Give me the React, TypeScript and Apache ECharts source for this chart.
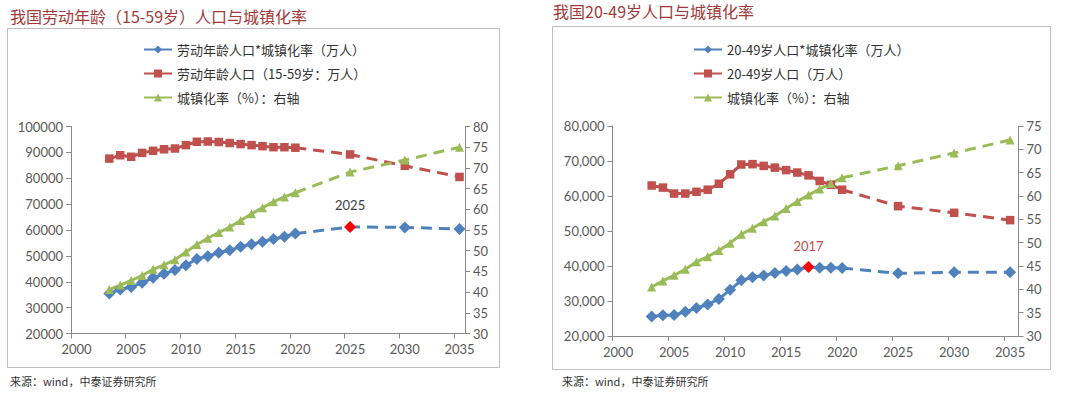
import React, { useEffect, useRef } from "react";
import * as echarts from "echarts";

// ---------- data ----------
const years = [2003, 2004, 2005, 2006, 2007, 2008, 2009, 2010, 2011, 2012, 2013, 2014, 2015, 2016, 2017, 2018, 2019, 2020, 2025, 2030, 2035];
const xLabelYears = [2000, 2005, 2010, 2015, 2020, 2025, 2030, 2035];

// left chart: 劳动年龄（15-59岁）
const leftTitle = "我国劳动年龄（15-59岁）人口与城镇化率";
const leftNames = ["劳动年龄人口*城镇化率（万人）", "劳动年龄人口（15-59岁：万人）", "城镇化率（%）：右轴"];
const laborUrbanL = [35500, 37000, 38000, 39600, 41500, 43100, 44500, 46400, 48800, 49900, 51200, 52200, 53500, 54500, 55500, 56500, 57400, 58600, 61200, 61000, 60400];
const laborPopL = [87600, 88900, 88300, 89800, 90600, 91200, 91500, 92800, 94100, 94200, 94000, 93600, 93200, 92800, 92400, 92000, 92000, 91800, 89200, 84800, 80500];
const urbanRateL = [40.6, 41.7, 42.8, 44.0, 45.5, 46.6, 47.8, 49.7, 51.5, 53.0, 54.4, 55.7, 57.3, 58.9, 60.4, 61.8, 63.0, 64.0, 69.0, 71.9, 75.0];
const leftHighlightYear = 2025;

// right chart: 20-49岁
const rightTitle = "我国20-49岁人口与城镇化率";
const rightNames = ["20-49岁人口*城镇化率（万人）", "20-49岁人口（万人）", "城镇化率（%）：右轴"];
const youngUrbanR = [25600, 25900, 26000, 26900, 28000, 29000, 30600, 33200, 35900, 36800, 37300, 38000, 38600, 39000, 39700, 39500, 39500, 39400, 37900, 38200, 38200];
const youngPopR = [63000, 62400, 60700, 60700, 61200, 61800, 63500, 66200, 69000, 69100, 68600, 68100, 67400, 66700, 65900, 64300, 63200, 61800, 57100, 55200, 53100];
const urbanRateR = [40.5, 41.8, 43.0, 44.3, 45.9, 47.0, 48.3, 49.9, 51.8, 53.1, 54.5, 55.7, 57.3, 58.8, 60.2, 61.5, 62.7, 63.9, 66.5, 69.2, 72.0];
const rightHighlightYear = 2017;

const sourceText = "来源：wind，中泰证券研究所";

// ---------- styles ----------
const BLUE = "#4f81bd";
const RED = "#c0504d";
const GREEN = "#9bbb59";
const HIGHLIGHT = "#ff0000";
const AXIS = "#898989";
const LABEL = "#595959";
const NUM_FONT = "Lato, 'Noto Sans', sans-serif";
const CJK_FONT = "'Noto Sans CJK SC', sans-serif";
const LAST_SOLID = 17; // index of 2020

function buildSeries(
  name: string,
  values: number[],
  gridIdx: number,
  yIdx: number,
  color: string,
  symbol: string,
  symbolSize: number,
  highlight?: { year: number; labelColor: string }
) {
  const mk = (i: number, first: boolean) => {
    const item: any = { value: [years[i], values[i]] };
    if (first) item.symbol = "none";
    if (highlight && years[i] === highlight.year) {
      item.itemStyle = { color: HIGHLIGHT };
      item.label = {
        show: true,
        position: "top",
        distance: 9,
        formatter: String(highlight.year),
        color: highlight.labelColor,
        fontSize: 13,
        fontFamily: NUM_FONT,
      };
    }
    return item;
  };
  const solidData = years.slice(0, LAST_SOLID + 1).map((_, i) => mk(i, false));
  const dashData = years.slice(LAST_SOLID).map((_, j) => mk(LAST_SOLID + j, j === 0));
  const common = {
    type: "line",
    name,
    xAxisIndex: gridIdx,
    yAxisIndex: yIdx,
    symbol,
    symbolSize,
    itemStyle: { color },
    color,
    showSymbol: true,
    z: 3,
  };
  return [
    { ...common, data: solidData, lineStyle: { color, width: 3 } },
    { ...common, data: dashData, lineStyle: { color, width: 3, type: [11, 7] } },
  ];
}

const tickYears = xLabelYears.map((y) => y - 0.5);

function xAxisFor(gridIndex: number, max: number) {
  return {
    type: "value",
    gridIndex,
    min: 1999.5,
    max,
    splitLine: { show: false },
    axisLine: { show: true, lineStyle: { color: AXIS, width: 1 } },
    axisTick: { show: true, length: 5, lineStyle: { color: AXIS }, customValues: tickYears },
    axisLabel: { color: LABEL, fontSize: 13, fontFamily: NUM_FONT, margin: 9, customValues: xLabelYears, formatter: (v: number) => String(v) },
  };
}

function yAxisFor(gridIndex: number, position: string, min: number, max: number, interval: number, comma: boolean) {
  return {
    type: "value",
    gridIndex,
    position,
    min,
    max,
    interval,
    splitLine: { show: false },
    axisLine: { show: true, lineStyle: { color: AXIS, width: 1 } },
    axisTick: { show: true, length: 5, lineStyle: { color: AXIS } },
    axisLabel: {
      color: LABEL,
      fontSize: 13,
      fontFamily: NUM_FONT,
      margin: 8,
      formatter: (v: number) => (comma ? v.toLocaleString("en-US") : String(v)),
    },
  };
}

const legendBase = {
  orient: "vertical",
  top: 38,
  itemWidth: 28,
  itemHeight: 10,
  itemGap: 11,
  textStyle: { fontSize: 13, fontFamily: CJK_FONT, color: "#333" },
};

export default function App() {
  const ref = useRef<HTMLDivElement>(null);
  useEffect(() => {
    if (!ref.current) return;
    const chart = echarts.init(ref.current, undefined, { renderer: "svg" });
    const option: any = {
      animation: false,
      backgroundColor: "#ffffff",
      grid: [
        { left: 71, top: 126.5, width: 394, height: 207 },
        { left: 612.5, top: 126, width: 406, height: 210 },
      ],
      xAxis: [xAxisFor(0, 2035.5), xAxisFor(1, 2035.75)],
      yAxis: [
        yAxisFor(0, "left", 20000, 100000, 10000, false),
        yAxisFor(0, "right", 30, 80, 5, false),
        yAxisFor(1, "left", 20000, 80000, 10000, true),
        yAxisFor(1, "right", 30, 75, 5, false),
      ],
      legend: [
        { ...legendBase, data: leftNames, left: 138 },
        { ...legendBase, data: rightNames, left: 688 },
      ],
      series: [
        ...buildSeries(leftNames[0], laborUrbanL, 0, 0, BLUE, "diamond", 12, { year: leftHighlightYear, labelColor: "#404040" }),
        ...buildSeries(leftNames[1], laborPopL, 0, 0, RED, "rect", 8.5),
        ...buildSeries(leftNames[2], urbanRateL, 0, 1, GREEN, "triangle", 9),
        ...buildSeries(rightNames[0], youngUrbanR, 1, 2, BLUE, "diamond", 12, { year: rightHighlightYear, labelColor: "#c0504d" }),
        ...buildSeries(rightNames[1], youngPopR, 1, 2, RED, "rect", 8.5),
        ...buildSeries(rightNames[2], urbanRateR, 1, 3, GREEN, "triangle", 9),
      ],
      graphic: [
        { type: "rect", shape: { x: 7.5, y: 28.5, width: 492, height: 339 }, style: { fill: "none", stroke: "#bfbfbf", lineWidth: 1 }, z: -1 },
        { type: "rect", shape: { x: 552.5, y: 26.5, width: 498, height: 343 }, style: { fill: "none", stroke: "#bfbfbf", lineWidth: 1 }, z: -1 },
        { type: "text", left: 10, top: 8, style: { text: leftTitle, fill: "#a33a3a", fontSize: 16, fontFamily: CJK_FONT } },
        { type: "text", left: 553, top: 3, style: { text: rightTitle, fill: "#a33a3a", fontSize: 16, fontFamily: CJK_FONT } },
        { type: "text", left: 10, top: 375, style: { text: sourceText, fill: "#333", fontSize: 11, fontFamily: CJK_FONT } },
        { type: "text", left: 562, top: 375, style: { text: sourceText, fill: "#333", fontSize: 11, fontFamily: CJK_FONT } },
      ],
    };
    chart.setOption(option);
    return () => chart.dispose();
  }, []);
  return <div ref={ref} style={{ position: "absolute", left: 0, top: 0, width: 1080, height: 395 }} />;
}
